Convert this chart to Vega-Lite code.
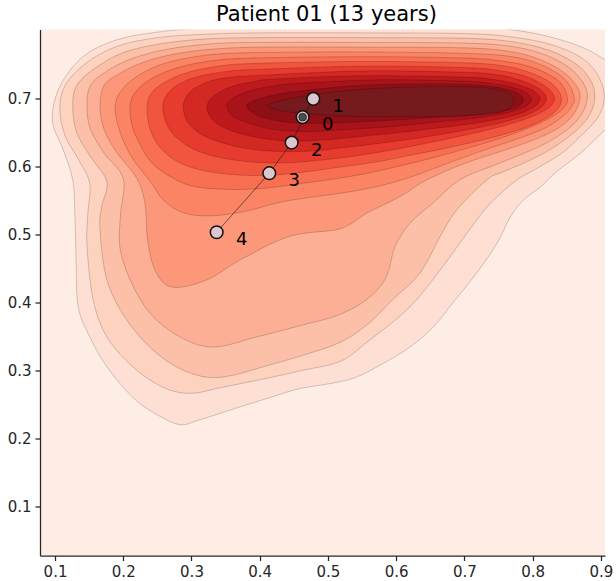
{
  "$schema": "https://vega.github.io/schema/vega-lite/v6.json",
  "width": 565,
  "height": 526,
  "autosize": {"type": "none"},
  "padding": {"left": 40, "top": 29.5, "right": 11, "bottom": 25.5},
  "background": "white",
  "view": {"stroke": null, "fill": "#fdede5"},
  "title": {"text": "Patient 01 (13 years)", "font": "DejaVu Sans", "fontSize": 21, "fontWeight": "normal", "color": "#000000", "offset": 5, "anchor": "middle", "dx": 4},
  "config": {
    "axis": {"labelFont": "DejaVu Sans", "labelFontSize": 15, "labelColor": "#262626", "domainColor": "#262626", "tickColor": "#262626", "domainWidth": 1.25, "tickWidth": 1.25, "tickSize": 5, "labelPadding": 4, "grid": false, "title": null}
  },
  "datasets": {
    "contours": [
      {"l":1,"i":1,"x":0.096,"y":0.669},{"l":1,"i":2,"x":0.107,"y":0.718},{"l":1,"i":3,"x":0.141,"y":0.762},{"l":1,"i":4,"x":0.191,"y":0.787},{"l":1,"i":5,"x":0.249,"y":0.798},{"l":1,"i":6,"x":0.312,"y":0.804},{"l":1,"i":7,"x":0.40,"y":0.808},{"l":1,"i":8,"x":0.55,"y":0.81},{"l":1,"i":9,"x":0.70,"y":0.808},{"l":1,"i":10,"x":0.768,"y":0.802},{"l":1,"i":11,"x":0.83,"y":0.79},{"l":1,"i":12,"x":0.885,"y":0.77},{"l":1,"i":13,"x":0.925,"y":0.74},{"l":1,"i":14,"x":0.94,"y":0.70},{"l":1,"i":15,"x":0.93,"y":0.672},{"l":1,"i":16,"x":0.906,"y":0.654},{"l":1,"i":17,"x":0.87,"y":0.62},{"l":1,"i":18,"x":0.835,"y":0.593},{"l":1,"i":19,"x":0.811,"y":0.570},{"l":1,"i":20,"x":0.786,"y":0.551},{"l":1,"i":21,"x":0.767,"y":0.526},{"l":1,"i":22,"x":0.748,"y":0.488},{"l":1,"i":23,"x":0.718,"y":0.444},{"l":1,"i":24,"x":0.683,"y":0.40},{"l":1,"i":25,"x":0.654,"y":0.364},{"l":1,"i":26,"x":0.620,"y":0.335},{"l":1,"i":27,"x":0.581,"y":0.311},{"l":1,"i":28,"x":0.542,"y":0.291},{"l":1,"i":29,"x":0.507,"y":0.282},{"l":1,"i":30,"x":0.459,"y":0.274},{"l":1,"i":31,"x":0.419,"y":0.262},{"l":1,"i":32,"x":0.371,"y":0.247},{"l":1,"i":33,"x":0.312,"y":0.228},{"l":1,"i":34,"x":0.283,"y":0.221},{"l":1,"i":35,"x":0.249,"y":0.236},{"l":1,"i":36,"x":0.214,"y":0.261},{"l":1,"i":37,"x":0.176,"y":0.306},{"l":1,"i":38,"x":0.151,"y":0.35},{"l":1,"i":39,"x":0.134,"y":0.394},{"l":1,"i":40,"x":0.131,"y":0.459},{"l":1,"i":41,"x":0.129,"y":0.532},{"l":1,"i":42,"x":0.126,"y":0.581},{"l":1,"i":43,"x":0.112,"y":0.625},

      {"l":2,"i":1,"x":0.107,"y":0.685},{"l":2,"i":2,"x":0.115,"y":0.72},{"l":2,"i":3,"x":0.145,"y":0.752},{"l":2,"i":4,"x":0.19,"y":0.777},{"l":2,"i":5,"x":0.25,"y":0.790},{"l":2,"i":6,"x":0.32,"y":0.795},{"l":2,"i":7,"x":0.40,"y":0.797},{"l":2,"i":8,"x":0.55,"y":0.797},{"l":2,"i":9,"x":0.70,"y":0.796},{"l":2,"i":10,"x":0.77,"y":0.791},{"l":2,"i":11,"x":0.83,"y":0.779},{"l":2,"i":12,"x":0.875,"y":0.758},{"l":2,"i":13,"x":0.898,"y":0.73},{"l":2,"i":14,"x":0.905,"y":0.70},{"l":2,"i":15,"x":0.895,"y":0.672},{"l":2,"i":16,"x":0.875,"y":0.65},{"l":2,"i":17,"x":0.845,"y":0.622},{"l":2,"i":18,"x":0.81,"y":0.60},{"l":2,"i":19,"x":0.777,"y":0.581},{"l":2,"i":20,"x":0.75,"y":0.558},{"l":2,"i":21,"x":0.733,"y":0.541},{"l":2,"i":22,"x":0.704,"y":0.503},{"l":2,"i":23,"x":0.668,"y":0.453},{"l":2,"i":24,"x":0.62,"y":0.394},{"l":2,"i":25,"x":0.557,"y":0.342},{"l":2,"i":26,"x":0.518,"y":0.314},{"l":2,"i":27,"x":0.459,"y":0.300},{"l":2,"i":28,"x":0.419,"y":0.291},{"l":2,"i":29,"x":0.346,"y":0.276},{"l":2,"i":30,"x":0.298,"y":0.267},{"l":2,"i":31,"x":0.258,"y":0.276},{"l":2,"i":32,"x":0.214,"y":0.306},{"l":2,"i":33,"x":0.176,"y":0.35},{"l":2,"i":34,"x":0.156,"y":0.404},{"l":2,"i":35,"x":0.147,"y":0.482},{"l":2,"i":36,"x":0.148,"y":0.53},{"l":2,"i":37,"x":0.151,"y":0.575},{"l":2,"i":38,"x":0.135,"y":0.61},{"l":2,"i":39,"x":0.115,"y":0.645},

      {"l":3,"i":1,"x":0.126,"y":0.688},{"l":3,"i":2,"x":0.132,"y":0.72},{"l":3,"i":3,"x":0.16,"y":0.746},{"l":3,"i":4,"x":0.20,"y":0.768},{"l":3,"i":5,"x":0.255,"y":0.781},{"l":3,"i":6,"x":0.32,"y":0.788},{"l":3,"i":7,"x":0.40,"y":0.790},{"l":3,"i":8,"x":0.55,"y":0.790},{"l":3,"i":9,"x":0.70,"y":0.789},{"l":3,"i":10,"x":0.77,"y":0.784},{"l":3,"i":11,"x":0.825,"y":0.771},{"l":3,"i":12,"x":0.865,"y":0.750},{"l":3,"i":13,"x":0.886,"y":0.725},{"l":3,"i":14,"x":0.891,"y":0.70},{"l":3,"i":15,"x":0.882,"y":0.674},{"l":3,"i":16,"x":0.862,"y":0.652},{"l":3,"i":17,"x":0.83,"y":0.628},{"l":3,"i":18,"x":0.79,"y":0.607},{"l":3,"i":19,"x":0.755,"y":0.592},{"l":3,"i":20,"x":0.733,"y":0.581},{"l":3,"i":21,"x":0.689,"y":0.537},{"l":3,"i":22,"x":0.664,"y":0.497},{"l":3,"i":23,"x":0.635,"y":0.444},{"l":3,"i":24,"x":0.595,"y":0.405},{"l":3,"i":25,"x":0.56,"y":0.37},{"l":3,"i":26,"x":0.52,"y":0.343},{"l":3,"i":27,"x":0.47,"y":0.325},{"l":3,"i":28,"x":0.419,"y":0.31},{"l":3,"i":29,"x":0.346,"y":0.291},{"l":3,"i":30,"x":0.298,"y":0.297},{"l":3,"i":31,"x":0.249,"y":0.326},{"l":3,"i":32,"x":0.205,"y":0.375},{"l":3,"i":33,"x":0.176,"y":0.434},{"l":3,"i":34,"x":0.166,"y":0.507},{"l":3,"i":35,"x":0.168,"y":0.54},{"l":3,"i":36,"x":0.176,"y":0.578},{"l":3,"i":37,"x":0.152,"y":0.615},{"l":3,"i":38,"x":0.132,"y":0.65},

      {"l":4,"i":1,"x":0.147,"y":0.688},{"l":4,"i":2,"x":0.152,"y":0.72},{"l":4,"i":3,"x":0.178,"y":0.742},{"l":4,"i":4,"x":0.215,"y":0.76},{"l":4,"i":5,"x":0.265,"y":0.773},{"l":4,"i":6,"x":0.33,"y":0.781},{"l":4,"i":7,"x":0.40,"y":0.783},{"l":4,"i":8,"x":0.55,"y":0.783},{"l":4,"i":9,"x":0.70,"y":0.782},{"l":4,"i":10,"x":0.77,"y":0.777},{"l":4,"i":11,"x":0.82,"y":0.764},{"l":4,"i":12,"x":0.856,"y":0.744},{"l":4,"i":13,"x":0.876,"y":0.72},{"l":4,"i":14,"x":0.880,"y":0.70},{"l":4,"i":15,"x":0.871,"y":0.676},{"l":4,"i":16,"x":0.852,"y":0.656},{"l":4,"i":17,"x":0.82,"y":0.635},{"l":4,"i":18,"x":0.78,"y":0.617},{"l":4,"i":19,"x":0.74,"y":0.601},{"l":4,"i":20,"x":0.693,"y":0.581},{"l":4,"i":21,"x":0.654,"y":0.547},{"l":4,"i":22,"x":0.62,"y":0.517},{"l":4,"i":23,"x":0.598,"y":0.482},{"l":4,"i":24,"x":0.585,"y":0.437},{"l":4,"i":25,"x":0.557,"y":0.405},{"l":4,"i":26,"x":0.515,"y":0.382},{"l":4,"i":27,"x":0.465,"y":0.368},{"l":4,"i":28,"x":0.396,"y":0.35},{"l":4,"i":29,"x":0.332,"y":0.335},{"l":4,"i":30,"x":0.283,"y":0.35},{"l":4,"i":31,"x":0.239,"y":0.385},{"l":4,"i":32,"x":0.21,"y":0.434},{"l":4,"i":33,"x":0.195,"y":0.482},{"l":4,"i":34,"x":0.196,"y":0.53},{"l":4,"i":35,"x":0.2,"y":0.583},{"l":4,"i":36,"x":0.172,"y":0.62},{"l":4,"i":37,"x":0.152,"y":0.655},

      {"l":5,"i":1,"x":0.166,"y":0.688},{"l":5,"i":2,"x":0.172,"y":0.72},{"l":5,"i":3,"x":0.196,"y":0.738},{"l":5,"i":4,"x":0.23,"y":0.754},{"l":5,"i":5,"x":0.275,"y":0.766},{"l":5,"i":6,"x":0.33,"y":0.773},{"l":5,"i":7,"x":0.40,"y":0.776},{"l":5,"i":8,"x":0.55,"y":0.776},{"l":5,"i":9,"x":0.70,"y":0.775},{"l":5,"i":10,"x":0.77,"y":0.769},{"l":5,"i":11,"x":0.815,"y":0.756},{"l":5,"i":12,"x":0.848,"y":0.737},{"l":5,"i":13,"x":0.866,"y":0.716},{"l":5,"i":14,"x":0.869,"y":0.70},{"l":5,"i":15,"x":0.861,"y":0.679},{"l":5,"i":16,"x":0.842,"y":0.66},{"l":5,"i":17,"x":0.81,"y":0.643},{"l":5,"i":18,"x":0.76,"y":0.625},{"l":5,"i":19,"x":0.70,"y":0.605},{"l":5,"i":20,"x":0.645,"y":0.581},{"l":5,"i":21,"x":0.605,"y":0.556},{"l":5,"i":22,"x":0.557,"y":0.532},{"l":5,"i":23,"x":0.518,"y":0.509},{"l":5,"i":24,"x":0.444,"y":0.498},{"l":5,"i":25,"x":0.371,"y":0.463},{"l":5,"i":26,"x":0.323,"y":0.434},{"l":5,"i":27,"x":0.273,"y":0.423},{"l":5,"i":28,"x":0.248,"y":0.445},{"l":5,"i":29,"x":0.236,"y":0.49},{"l":5,"i":30,"x":0.232,"y":0.545},{"l":5,"i":31,"x":0.22,"y":0.583},{"l":5,"i":32,"x":0.19,"y":0.622},{"l":5,"i":33,"x":0.172,"y":0.655},

      {"l":6,"i":1,"x":0.188,"y":0.688},{"l":6,"i":2,"x":0.197,"y":0.712},{"l":6,"i":3,"x":0.22,"y":0.733},{"l":6,"i":4,"x":0.26,"y":0.752},{"l":6,"i":5,"x":0.32,"y":0.764},{"l":6,"i":6,"x":0.39,"y":0.768},{"l":6,"i":7,"x":0.55,"y":0.769},{"l":6,"i":8,"x":0.70,"y":0.767},{"l":6,"i":9,"x":0.77,"y":0.762},{"l":6,"i":10,"x":0.81,"y":0.751},{"l":6,"i":11,"x":0.84,"y":0.735},{"l":6,"i":12,"x":0.855,"y":0.718},{"l":6,"i":13,"x":0.861,"y":0.70},{"l":6,"i":14,"x":0.857,"y":0.688},{"l":6,"i":15,"x":0.845,"y":0.675},{"l":6,"i":16,"x":0.82,"y":0.658},{"l":6,"i":17,"x":0.78,"y":0.642},{"l":6,"i":18,"x":0.73,"y":0.625},{"l":6,"i":19,"x":0.68,"y":0.607},{"l":6,"i":20,"x":0.63,"y":0.588},{"l":6,"i":21,"x":0.58,"y":0.573},{"l":6,"i":22,"x":0.53,"y":0.563},{"l":6,"i":23,"x":0.48,"y":0.556},{"l":6,"i":24,"x":0.43,"y":0.548},{"l":6,"i":25,"x":0.38,"y":0.535},{"l":6,"i":26,"x":0.33,"y":0.528},{"l":6,"i":27,"x":0.29,"y":0.532},{"l":6,"i":28,"x":0.26,"y":0.55},{"l":6,"i":29,"x":0.24,"y":0.578},{"l":6,"i":30,"x":0.212,"y":0.615},{"l":6,"i":31,"x":0.195,"y":0.652},

      {"l":7,"i":1,"x":0.21,"y":0.69},{"l":7,"i":2,"x":0.218,"y":0.71},{"l":7,"i":3,"x":0.24,"y":0.729},{"l":7,"i":4,"x":0.28,"y":0.746},{"l":7,"i":5,"x":0.33,"y":0.756},{"l":7,"i":6,"x":0.39,"y":0.760},{"l":7,"i":7,"x":0.55,"y":0.762},{"l":7,"i":8,"x":0.70,"y":0.760},{"l":7,"i":9,"x":0.76,"y":0.755},{"l":7,"i":10,"x":0.80,"y":0.746},{"l":7,"i":11,"x":0.832,"y":0.731},{"l":7,"i":12,"x":0.846,"y":0.716},{"l":7,"i":13,"x":0.851,"y":0.70},{"l":7,"i":14,"x":0.848,"y":0.69},{"l":7,"i":15,"x":0.835,"y":0.678},{"l":7,"i":16,"x":0.81,"y":0.664},{"l":7,"i":17,"x":0.77,"y":0.648},{"l":7,"i":18,"x":0.72,"y":0.632},{"l":7,"i":19,"x":0.66,"y":0.615},{"l":7,"i":20,"x":0.60,"y":0.60},{"l":7,"i":21,"x":0.55,"y":0.589},{"l":7,"i":22,"x":0.50,"y":0.581},{"l":7,"i":23,"x":0.45,"y":0.574},{"l":7,"i":24,"x":0.40,"y":0.568},{"l":7,"i":25,"x":0.35,"y":0.567},{"l":7,"i":26,"x":0.30,"y":0.572},{"l":7,"i":27,"x":0.265,"y":0.588},{"l":7,"i":28,"x":0.24,"y":0.608},{"l":7,"i":29,"x":0.225,"y":0.632},{"l":7,"i":30,"x":0.213,"y":0.66},

      {"l":8,"i":1,"x":0.235,"y":0.69},{"l":8,"i":2,"x":0.241,"y":0.708},{"l":8,"i":3,"x":0.26,"y":0.724},{"l":8,"i":4,"x":0.295,"y":0.739},{"l":8,"i":5,"x":0.34,"y":0.748},{"l":8,"i":6,"x":0.39,"y":0.752},{"l":8,"i":7,"x":0.55,"y":0.755},{"l":8,"i":8,"x":0.70,"y":0.753},{"l":8,"i":9,"x":0.76,"y":0.748},{"l":8,"i":10,"x":0.795,"y":0.739},{"l":8,"i":11,"x":0.823,"y":0.726},{"l":8,"i":12,"x":0.837,"y":0.713},{"l":8,"i":13,"x":0.842,"y":0.70},{"l":8,"i":14,"x":0.838,"y":0.687},{"l":8,"i":15,"x":0.822,"y":0.673},{"l":8,"i":16,"x":0.79,"y":0.658},{"l":8,"i":17,"x":0.74,"y":0.643},{"l":8,"i":18,"x":0.68,"y":0.629},{"l":8,"i":19,"x":0.62,"y":0.617},{"l":8,"i":20,"x":0.57,"y":0.607},{"l":8,"i":21,"x":0.52,"y":0.600},{"l":8,"i":22,"x":0.47,"y":0.593},{"l":8,"i":23,"x":0.42,"y":0.588},{"l":8,"i":24,"x":0.37,"y":0.588},{"l":8,"i":25,"x":0.32,"y":0.594},{"l":8,"i":26,"x":0.285,"y":0.605},{"l":8,"i":27,"x":0.26,"y":0.622},{"l":8,"i":28,"x":0.245,"y":0.642},{"l":8,"i":29,"x":0.237,"y":0.665},

      {"l":9,"i":1,"x":0.258,"y":0.69},{"l":9,"i":2,"x":0.264,"y":0.706},{"l":9,"i":3,"x":0.28,"y":0.721},{"l":9,"i":4,"x":0.31,"y":0.733},{"l":9,"i":5,"x":0.35,"y":0.740},{"l":9,"i":6,"x":0.39,"y":0.743},{"l":9,"i":7,"x":0.55,"y":0.748},{"l":9,"i":8,"x":0.70,"y":0.746},{"l":9,"i":9,"x":0.755,"y":0.741},{"l":9,"i":10,"x":0.79,"y":0.733},{"l":9,"i":11,"x":0.813,"y":0.722},{"l":9,"i":12,"x":0.827,"y":0.711},{"l":9,"i":13,"x":0.832,"y":0.70},{"l":9,"i":14,"x":0.826,"y":0.689},{"l":9,"i":15,"x":0.806,"y":0.677},{"l":9,"i":16,"x":0.77,"y":0.664},{"l":9,"i":17,"x":0.72,"y":0.651},{"l":9,"i":18,"x":0.66,"y":0.638},{"l":9,"i":19,"x":0.60,"y":0.626},{"l":9,"i":20,"x":0.54,"y":0.616},{"l":9,"i":21,"x":0.49,"y":0.610},{"l":9,"i":22,"x":0.44,"y":0.606},{"l":9,"i":23,"x":0.39,"y":0.607},{"l":9,"i":24,"x":0.345,"y":0.613},{"l":9,"i":25,"x":0.31,"y":0.623},{"l":9,"i":26,"x":0.287,"y":0.636},{"l":9,"i":27,"x":0.27,"y":0.652},{"l":9,"i":28,"x":0.261,"y":0.67},

      {"l":10,"i":1,"x":0.288,"y":0.69},{"l":10,"i":2,"x":0.293,"y":0.704},{"l":10,"i":3,"x":0.305,"y":0.716},{"l":10,"i":4,"x":0.33,"y":0.727},{"l":10,"i":5,"x":0.36,"y":0.732},{"l":10,"i":6,"x":0.39,"y":0.734},{"l":10,"i":7,"x":0.55,"y":0.741},{"l":10,"i":8,"x":0.70,"y":0.739},{"l":10,"i":9,"x":0.75,"y":0.735},{"l":10,"i":10,"x":0.78,"y":0.728},{"l":10,"i":11,"x":0.802,"y":0.719},{"l":10,"i":12,"x":0.815,"y":0.71},{"l":10,"i":13,"x":0.82,"y":0.70},{"l":10,"i":14,"x":0.813,"y":0.688},{"l":10,"i":15,"x":0.79,"y":0.676},{"l":10,"i":16,"x":0.75,"y":0.664},{"l":10,"i":17,"x":0.69,"y":0.652},{"l":10,"i":18,"x":0.63,"y":0.642},{"l":10,"i":19,"x":0.57,"y":0.634},{"l":10,"i":20,"x":0.52,"y":0.628},{"l":10,"i":21,"x":0.47,"y":0.623},{"l":10,"i":22,"x":0.42,"y":0.623},{"l":10,"i":23,"x":0.375,"y":0.628},{"l":10,"i":24,"x":0.34,"y":0.637},{"l":10,"i":25,"x":0.316,"y":0.647},{"l":10,"i":26,"x":0.30,"y":0.659},{"l":10,"i":27,"x":0.291,"y":0.673},

      {"l":11,"i":1,"x":0.323,"y":0.69},{"l":11,"i":2,"x":0.33,"y":0.702},{"l":11,"i":3,"x":0.345,"y":0.712},{"l":11,"i":4,"x":0.365,"y":0.72},{"l":11,"i":5,"x":0.39,"y":0.725},{"l":11,"i":6,"x":0.42,"y":0.729},{"l":11,"i":7,"x":0.55,"y":0.734},{"l":11,"i":8,"x":0.70,"y":0.732},{"l":11,"i":9,"x":0.745,"y":0.728},{"l":11,"i":10,"x":0.775,"y":0.722},{"l":11,"i":11,"x":0.797,"y":0.714},{"l":11,"i":12,"x":0.808,"y":0.706},{"l":11,"i":13,"x":0.81,"y":0.697},{"l":11,"i":14,"x":0.798,"y":0.686},{"l":11,"i":15,"x":0.77,"y":0.675},{"l":11,"i":16,"x":0.72,"y":0.665},{"l":11,"i":17,"x":0.66,"y":0.657},{"l":11,"i":18,"x":0.60,"y":0.650},{"l":11,"i":19,"x":0.55,"y":0.645},{"l":11,"i":20,"x":0.50,"y":0.640},{"l":11,"i":21,"x":0.45,"y":0.638},{"l":11,"i":22,"x":0.41,"y":0.641},{"l":11,"i":23,"x":0.375,"y":0.648},{"l":11,"i":24,"x":0.352,"y":0.656},{"l":11,"i":25,"x":0.336,"y":0.665},{"l":11,"i":26,"x":0.326,"y":0.676},

      {"l":12,"i":1,"x":0.352,"y":0.69},{"l":12,"i":2,"x":0.358,"y":0.699},{"l":12,"i":3,"x":0.37,"y":0.706},{"l":12,"i":4,"x":0.39,"y":0.713},{"l":12,"i":5,"x":0.42,"y":0.719},{"l":12,"i":6,"x":0.46,"y":0.723},{"l":12,"i":7,"x":0.58,"y":0.728},{"l":12,"i":8,"x":0.70,"y":0.726},{"l":12,"i":9,"x":0.735,"y":0.723},{"l":12,"i":10,"x":0.765,"y":0.718},{"l":12,"i":11,"x":0.784,"y":0.712},{"l":12,"i":12,"x":0.795,"y":0.705},{"l":12,"i":13,"x":0.798,"y":0.697},{"l":12,"i":14,"x":0.787,"y":0.688},{"l":12,"i":15,"x":0.76,"y":0.679},{"l":12,"i":16,"x":0.71,"y":0.671},{"l":12,"i":17,"x":0.65,"y":0.665},{"l":12,"i":18,"x":0.59,"y":0.659},{"l":12,"i":19,"x":0.53,"y":0.655},{"l":12,"i":20,"x":0.48,"y":0.652},{"l":12,"i":21,"x":0.44,"y":0.653},{"l":12,"i":22,"x":0.41,"y":0.657},{"l":12,"i":23,"x":0.385,"y":0.664},{"l":12,"i":24,"x":0.366,"y":0.671},{"l":12,"i":25,"x":0.356,"y":0.679},

      {"l":13,"i":1,"x":0.381,"y":0.69},{"l":13,"i":2,"x":0.39,"y":0.697},{"l":13,"i":3,"x":0.41,"y":0.703},{"l":13,"i":4,"x":0.44,"y":0.709},{"l":13,"i":5,"x":0.49,"y":0.715},{"l":13,"i":6,"x":0.55,"y":0.72},{"l":13,"i":7,"x":0.62,"y":0.722},{"l":13,"i":8,"x":0.70,"y":0.721},{"l":13,"i":9,"x":0.74,"y":0.718},{"l":13,"i":10,"x":0.766,"y":0.713},{"l":13,"i":11,"x":0.78,"y":0.707},{"l":13,"i":12,"x":0.786,"y":0.70},{"l":13,"i":13,"x":0.783,"y":0.692},{"l":13,"i":14,"x":0.765,"y":0.684},{"l":13,"i":15,"x":0.72,"y":0.677},{"l":13,"i":16,"x":0.66,"y":0.673},{"l":13,"i":17,"x":0.60,"y":0.669},{"l":13,"i":18,"x":0.54,"y":0.666},{"l":13,"i":19,"x":0.49,"y":0.664},{"l":13,"i":20,"x":0.45,"y":0.665},{"l":13,"i":21,"x":0.42,"y":0.669},{"l":13,"i":22,"x":0.398,"y":0.675},{"l":13,"i":23,"x":0.386,"y":0.682},

      {"l":14,"i":1,"x":0.412,"y":0.69},{"l":14,"i":2,"x":0.43,"y":0.697},{"l":14,"i":3,"x":0.46,"y":0.703},{"l":14,"i":4,"x":0.50,"y":0.709},{"l":14,"i":5,"x":0.55,"y":0.714},{"l":14,"i":6,"x":0.61,"y":0.717},{"l":14,"i":7,"x":0.67,"y":0.718},{"l":14,"i":8,"x":0.72,"y":0.717},{"l":14,"i":9,"x":0.752,"y":0.713},{"l":14,"i":10,"x":0.768,"y":0.706},{"l":14,"i":11,"x":0.772,"y":0.697},{"l":14,"i":12,"x":0.768,"y":0.688},{"l":14,"i":13,"x":0.75,"y":0.68},{"l":14,"i":14,"x":0.71,"y":0.676},{"l":14,"i":15,"x":0.66,"y":0.674},{"l":14,"i":16,"x":0.60,"y":0.674},{"l":14,"i":17,"x":0.55,"y":0.674},{"l":14,"i":18,"x":0.50,"y":0.676},{"l":14,"i":19,"x":0.46,"y":0.679},{"l":14,"i":20,"x":0.43,"y":0.683}
    ],
    "traj": [
      {"t":0,"x":0.4629,"y":0.6731,"label":"0"},
      {"t":1,"x":0.4785,"y":0.7000,"label":"1"},
      {"t":2,"x":0.4468,"y":0.6357,"label":"2"},
      {"t":3,"x":0.4140,"y":0.5907,"label":"3"},
      {"t":4,"x":0.3369,"y":0.5038,"label":"4"}
    ]
  },
  "layer": [
    {
      "data": {"name": "contours"},
      "mark": {"type": "line", "interpolate": "cardinal-closed", "stroke": "#000000", "strokeOpacity": 0.3, "strokeWidth": 0.6, "clip": true},
      "encoding": {
        "x": {"field": "x", "type": "quantitative", "scale": {"domain": [0.078, 0.906], "nice": false, "zero": false}, "axis": {"values": [0.1,0.2,0.3,0.4,0.5,0.6,0.7,0.8,0.9], "format": ".1f"}},
        "y": {"field": "y", "type": "quantitative", "scale": {"domain": [0.0285, 0.802], "nice": false, "zero": false}, "axis": {"values": [0.1,0.2,0.3,0.4,0.5,0.6,0.7], "format": ".1f"}},
        "fill": {"field": "l", "type": "ordinal", "legend": null, "scale": {"domain": [1,2,3,4,5,6,7,8,9,10,11,12,13,14], "range": ["#fde0d3","#fdd2bf","#fcc0a8","#fcaf94","#fc9879","#fb8464","#f86f51","#f2553e","#e63b2e","#d42823","#be1a1e","#a8141a","#8e1016","#771a1d"]}},
        "detail": {"field": "l", "type": "ordinal"},
        "order": {"field": "i", "type": "quantitative"}
      }
    },
    {
      "data": {"name": "traj"},
      "mark": {"type": "line", "color": "#222222", "strokeWidth": 0.8, "opacity": 0.8},
      "encoding": {
        "x": {"field": "x", "type": "quantitative"},
        "y": {"field": "y", "type": "quantitative"},
        "order": {"field": "t", "type": "quantitative"}
      }
    },
    {
      "data": {"name": "traj"},
      "mark": {"type": "point", "filled": true, "size": 160, "fill": "#dcc8cc", "stroke": "#111111", "strokeWidth": 1.5, "opacity": 1},
      "encoding": {
        "x": {"field": "x", "type": "quantitative"},
        "y": {"field": "y", "type": "quantitative"}
      }
    },
    {
      "data": {"name": "traj"},
      "transform": [{"filter": "datum.t == 0"}],
      "mark": {"type": "point", "filled": true, "size": 60, "fill": "#4d4d4d", "stroke": "#222222", "strokeWidth": 0.8, "opacity": 1},
      "encoding": {
        "x": {"field": "x", "type": "quantitative"},
        "y": {"field": "y", "type": "quantitative"}
      }
    },
    {
      "data": {"name": "traj"},
      "mark": {"type": "text", "font": "DejaVu Sans", "fontSize": 18, "color": "#000000", "dx": 25, "dy": 8, "align": "center", "baseline": "middle"},
      "encoding": {
        "x": {"field": "x", "type": "quantitative"},
        "y": {"field": "y", "type": "quantitative"},
        "text": {"field": "label"}
      }
    }
  ]
}
